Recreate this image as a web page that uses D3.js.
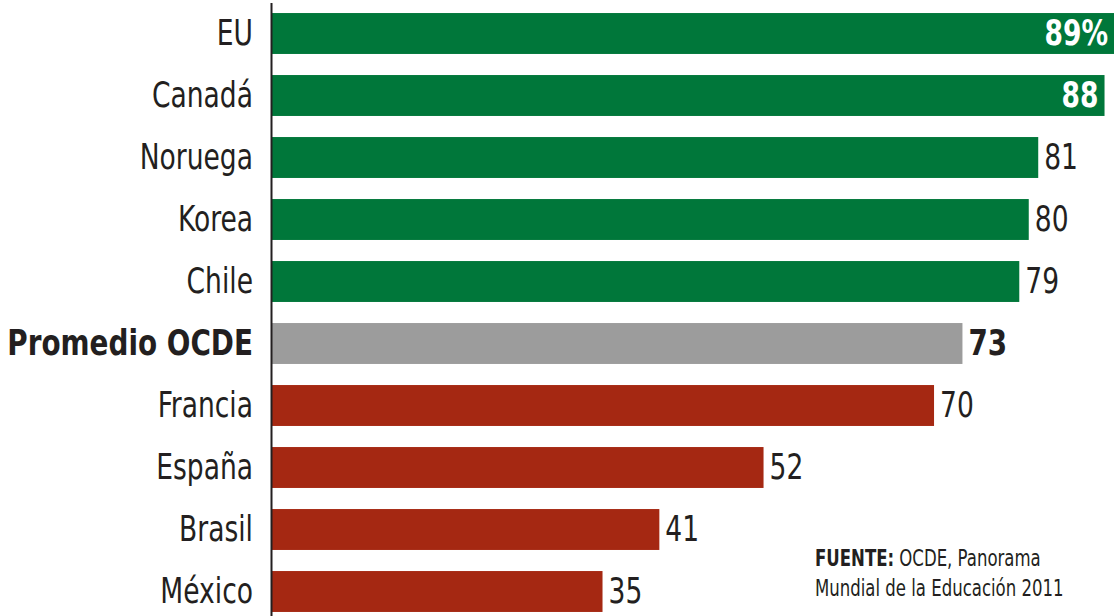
<!DOCTYPE html>
<html>
<head>
<meta charset="utf-8">
<script src="https://cdn.jsdelivr.net/npm/d3@7"></script>
<style>
  body { margin: 0; background: #fff; }
  svg text { font-family: "DejaVu Sans Condensed", "DejaVu Sans", sans-serif; }
</style>
</head>
<body>
<svg id="chart"></svg>
<script>
// data
const countries = ["EU", "Canadá", "Noruega", "Korea", "Chile", "Promedio OCDE", "Francia", "España", "Brasil", "México"];
const values = [89, 88, 81, 80, 79, 73, 70, 52, 41, 35];
const groups = ["above", "above", "above", "above", "above", "avg", "below", "below", "below", "below"];
const valueLabels = ["89%", "88", "81", "80", "79", "73", "70", "52", "41", "35"];
const sourceLines = [["FUENTE:", " OCDE, Panorama"], ["", "Mundial de la Educación 2011"]];

const width = 1115, height = 616;
const colors = { above: "#00773a", avg: "#9c9c9c", below: "#a52812" };
const squeeze = 0.82; // the original uses a condensed face
const squeezeBold = 0.86;

const data = countries.map((c, i) => ({ country: c, value: values[i], group: groups[i], label: valueLabels[i] }));

const svg = d3.select("#chart").attr("width", width).attr("height", height);

const x = d3.scaleLinear().domain([0, 89]).range([271, 1114]);
const y = d3.scaleBand()
  .domain(countries)
  .range([2.5, 622.5])
  .paddingInner(0.34)
  .paddingOuter(0.17);

// bars
svg.append("g")
  .selectAll("rect")
  .data(data)
  .enter()
  .append("rect")
  .attr("x", x(0))
  .attr("y", d => y(d.country))
  .attr("width", d => x(d.value) - x(0))
  .attr("height", y.bandwidth())
  .attr("fill", d => colors[d.group]);

// country labels + the vertical line
const axis = svg.append("g")
  .attr("transform", `translate(${x(0)},0)`)
  .call(d3.axisLeft(y).tickSize(0).tickSizeOuter(0).tickPadding(0));

axis.select(".domain").attr("stroke", "#231f20").attr("stroke-width", 2);
axis.selectAll(".tick text")
  .attr("x", 0)
  .attr("transform", d => `translate(-18,0) scale(${d === "Promedio OCDE" ? squeezeBold : squeeze},1)`)
  .style("font-size", "36px")
  .attr("fill", "#231f20")
  .attr("dy", "0.33em")
  .style("font-weight", d => d === "Promedio OCDE" ? "bold" : "normal");

// value labels, the two longest go inside the bar
svg.append("g")
  .selectAll("text")
  .data(data)
  .enter()
  .append("text")
  .attr("transform", d => {
    const tx = d.value >= 88 ? x(d.value) - 6 : x(d.value) + 6;
    const k = d.group === "avg" ? squeezeBold : squeeze;
    return `translate(${tx},${y(d.country) + y.bandwidth() / 2}) scale(${k},1)`;
  })
  .attr("dy", "0.33em")
  .attr("text-anchor", d => d.value >= 88 ? "end" : "start")
  .attr("fill", d => d.value >= 88 ? "#fff" : "#231f20")
  .style("font-weight", d => (d.value >= 88 || d.group === "avg") ? "bold" : "normal")
  .style("font-size", "36px")
  .text(d => d.label);

// source note
sourceLines.forEach((line, i) => {
  const t = svg.append("text")
    .attr("transform", `translate(815,${566 + i * 30}) scale(0.8,1)`)
    .style("font-size", "23px")
    .attr("fill", "#231f20");
  t.append("tspan").style("font-weight", "bold").text(line[0]);
  t.append("tspan").text(line[1]);
});
</script>
</body>
</html>
